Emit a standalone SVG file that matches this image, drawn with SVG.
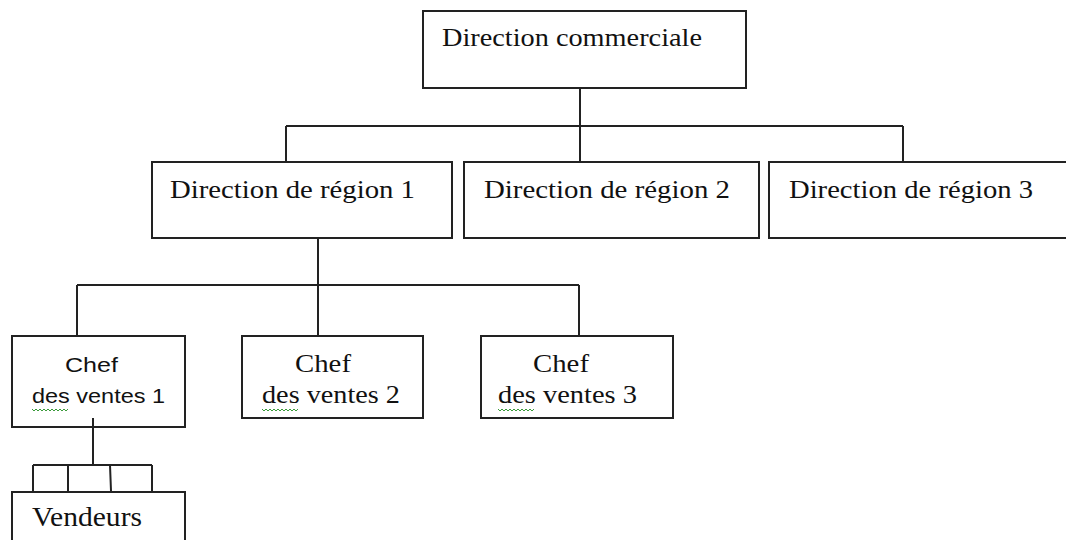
<svg xmlns="http://www.w3.org/2000/svg" width="1066" height="540" viewBox="0 0 1066 540">
<style>
.box{fill:#fff;stroke:#222;stroke-width:2}
.ln{fill:none;stroke:#222;stroke-width:2}
.t{font-family:"Liberation Serif","Times New Roman",serif;font-size:26px;fill:#111}
.v{font-family:"Liberation Serif","Times New Roman",serif;font-size:28px;fill:#111}
.s{font-family:"Liberation Sans",Arial,sans-serif;font-size:21px;fill:#111}
.sq{fill:none;stroke:#3a9a3a;stroke-width:1}
</style>
<rect width="1066" height="540" fill="#fff"/>
<g id="n-direction-commerciale">
<rect class="box" x="423" y="11" width="323" height="77"/>
<text class="t" x="442" y="46" textLength="260" lengthAdjust="spacingAndGlyphs">Direction commerciale</text>
</g>
<g id="n-region-1">
<rect class="box" x="152" y="162" width="300" height="76"/>
<text class="t" x="170" y="198" textLength="245" lengthAdjust="spacingAndGlyphs">Direction de région  1</text>
</g>
<g id="n-region-2">
<rect class="box" x="464" y="162" width="295" height="76"/>
<text class="t" x="484" y="198" textLength="246" lengthAdjust="spacingAndGlyphs">Direction de région  2</text>
</g>
<g id="n-region-3">
<rect class="box" x="769" y="162" width="310" height="76"/>
<text class="t" x="789" y="198" textLength="244" lengthAdjust="spacingAndGlyphs">Direction de région  3</text>
</g>
<g id="n-chef-1">
<rect class="box" x="12" y="336" width="173" height="91"/>
<text class="s" x="65" y="372" textLength="53" lengthAdjust="spacingAndGlyphs">Chef</text>
<text class="s" x="32" y="403" textLength="133" lengthAdjust="spacingAndGlyphs">des ventes 1</text>
<path class="sq" d="M32 409l2 2l2 -2l2 2l2 -2l2 2l2 -2l2 2l2 -2l2 2l2 -2l2 2l2 -2l2 2l2 -2l2 2l2 -2l2 2l2 -2"/>
</g>
<g id="n-chef-2">
<rect class="box" x="242" y="336" width="181" height="82"/>
<text class="t" x="295" y="372" textLength="56" lengthAdjust="spacingAndGlyphs">Chef</text>
<text class="t" x="262" y="403" textLength="138" lengthAdjust="spacingAndGlyphs">des ventes 2</text>
<path class="sq" d="M262 409l2 2l2 -2l2 2l2 -2l2 2l2 -2l2 2l2 -2l2 2l2 -2l2 2l2 -2l2 2l2 -2l2 2l2 -2l2 2l2 -2"/>
</g>
<g id="n-chef-3">
<rect class="box" x="481" y="336" width="192" height="82"/>
<text class="t" x="533" y="372" textLength="56" lengthAdjust="spacingAndGlyphs">Chef</text>
<text class="t" x="498" y="403" textLength="139" lengthAdjust="spacingAndGlyphs">des ventes 3</text>
<path class="sq" d="M498 409l2 2l2 -2l2 2l2 -2l2 2l2 -2l2 2l2 -2l2 2l2 -2l2 2l2 -2l2 2l2 -2l2 2l2 -2l2 2l2 -2"/>
</g>
<g id="n-vendeurs">
<rect class="box" x="12" y="492" width="173" height="60"/>
<text class="v" x="32" y="526" textLength="110" lengthAdjust="spacingAndGlyphs">Vendeurs</text>
</g>
<g id="connectors">
<path class="ln" d="M580 89V161M286 126H903M286 126V161M903 126V161"/>
<path class="ln" d="M318 239V335M77 285H579M77 285V335M579 285V335"/>
<path class="ln" d="M93 418V465M33 465H152M33 465V491M68 465V491M110 465L111 491M152 465V491"/>
</g>
</svg>
